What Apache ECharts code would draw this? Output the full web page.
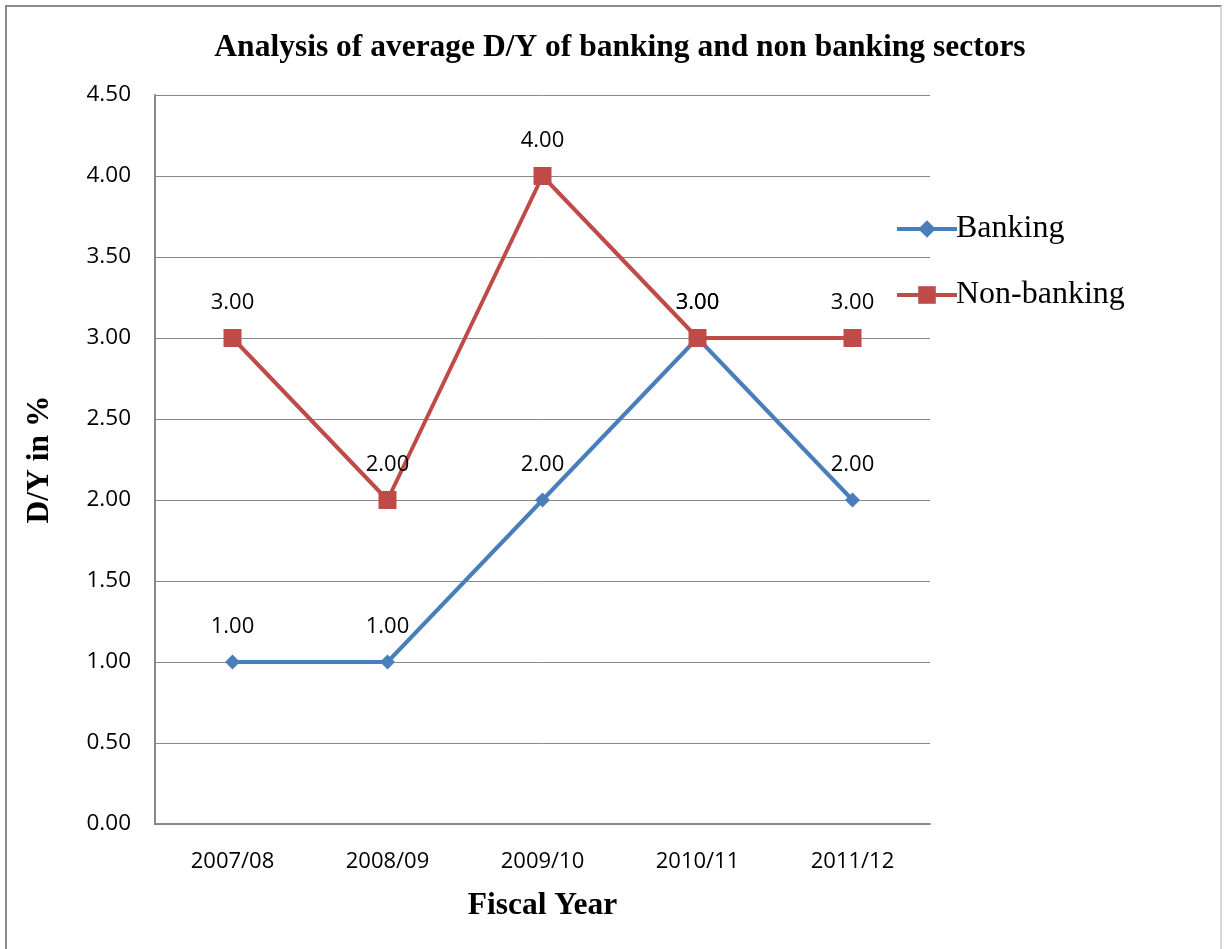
<!DOCTYPE html>
<html><head><meta charset="utf-8">
<script src="https://cdn.jsdelivr.net/npm/echarts@6/dist/echarts.min.js"></script>
<style>
html,body{margin:0;padding:0;background:#fff;}
#frame{position:absolute;left:5px;top:5px;width:1217px;height:944px;border-left:2px solid #8a8a8a;border-top:2px solid #8a8a8a;border-right:2px solid #d8d8d8;box-sizing:border-box;}
#c{position:absolute;left:0;top:0;width:1224px;height:949px;}
</style></head>
<body><div id="frame"></div><div id="c"></div>
<script>
const categories = ['2007/08','2008/09','2009/10','2010/11','2011/12'];
const banking = [1.00, 1.00, 2.00, 3.00, 2.00];
const nonBanking = [3.00, 2.00, 4.00, 3.00, 3.00];
const yTicks = {min: 0, max: 4.5, interval: 0.5};

const chart = echarts.init(document.getElementById('c'));
const serif = '"Liberation Serif","Times New Roman",serif';
const sans = '"Open Sans","Noto Sans",sans-serif';
function labelCfg(dist) {
  return {show: true, position: 'top', distance: dist, formatter: p => p.value.toFixed(2), fontFamily: sans, fontSize: 22, color: '#000'};
}
const blue = '#4A7EBB', red = '#BE4B48';
chart.setOption({
  animation: false,
  title: {text: 'Analysis of average D/Y of banking and non banking sectors', left: 615, textAlign: 'center', top: 27,
    textStyle: {fontFamily: serif, fontWeight: 'bold', fontSize: 31.5, color: '#000'}},
  grid: {left: 155, right: 294, top: 95, bottom: 125},
  legend: {orient: 'vertical', left: 890, top: 208, itemWidth: 60, itemHeight: 22, itemGap: 34,
    textStyle: {fontFamily: serif, fontSize: 32, color: '#000', padding: [0,0,0,-6]},
    data: [
      {name: 'Banking', lineStyle: {width: 4, color: blue}},
      {name: 'Non-banking', lineStyle: {width: 4, color: red}}
    ]},
  xAxis: {type: 'category', data: categories, boundaryGap: true,
    axisLine: {lineStyle: {color: '#888', width: 2}}, axisTick: {show: false},
    axisLabel: {fontFamily: sans, fontSize: 22, color: '#000', margin: 27},
    name: 'Fiscal Year', nameLocation: 'middle', nameGap: 66,
    nameTextStyle: {fontFamily: serif, fontWeight: 'bold', fontSize: 31.5, color: '#000'}},
  yAxis: {type: 'value', min: yTicks.min, max: yTicks.max, interval: yTicks.interval,
    axisLine: {show: true, lineStyle: {color: '#888', width: 2}}, axisTick: {show: false},
    splitLine: {lineStyle: {color: '#888', width: 1}},
    axisLabel: {formatter: v => v.toFixed(2), fontFamily: sans, fontSize: 22.5, color: '#000', margin: 24, padding: [6,0,0,0]},
    name: 'D/Y in %', nameLocation: 'middle', nameGap: 99, nameRotate: 90,
    nameTextStyle: {fontFamily: serif, fontWeight: 'bold', fontSize: 31.5, color: '#000'}},
  series: [
    {name: 'Banking', type: 'line', data: banking, symbol: 'diamond', symbolSize: 15,
      lineStyle: {color: blue, width: 4}, itemStyle: {color: blue}, label: labelCfg(17), z: 2},
    {name: 'Non-banking', type: 'line', data: nonBanking, symbol: 'rect', symbolSize: 18,
      lineStyle: {color: red, width: 4}, itemStyle: {color: red}, label: labelCfg(15), z: 3}
  ]
});
</script></body></html>
